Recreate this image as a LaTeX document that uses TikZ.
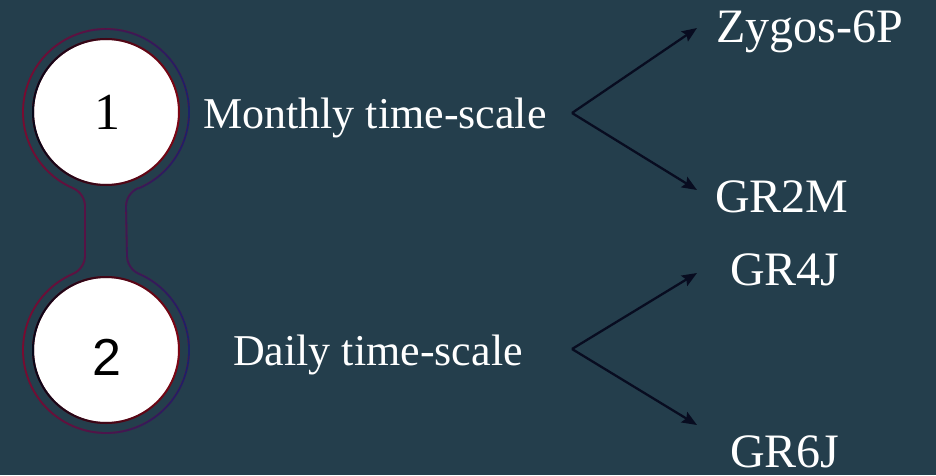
\documentclass[tikz,border=0pt]{standalone}
\usepackage{fontspec}
\setmainfont{Liberation Serif}
\newfontfamily\digitsans{Liberation Sans}
\usetikzlibrary{arrows.meta,fadings}

\definecolor{bgteal}{RGB}{36,62,76}
\definecolor{ringred}{RGB}{128,10,44}
\definecolor{ringblue}{RGB}{22,34,110}
\definecolor{rimred}{RGB}{126,6,20}
\definecolor{rimdark}{RGB}{8,8,26}
\definecolor{arrowink}{RGB}{8,12,32}

% horizontal fadings for the two-colour outlines
\tikzfading[name=fadeinright, left color=transparent!100, right color=transparent!0]
\tikzfading[name=fadeoutright, left color=transparent!0, right color=transparent!100]

\tikzset{
  stage/.style={circle, fill=white, draw=rimred, line width=2pt,
                minimum size=146pt, inner sep=0pt},
  stagedark/.style={draw=rimdark, line width=2pt, path fading=fadeoutright},
  digit/.style={text=black, font=\fontsize{52}{60}\selectfont, inner sep=0pt},
  scalelabel/.style={text=white, font=\fontsize{44}{52}\selectfont,
                     anchor=base west, inner sep=0pt},
  model/.style={text=white, font=\fontsize{48}{56}\selectfont,
                anchor=base west, inner sep=0pt},
  branch/.style={draw=arrowink, line width=2.3pt,
                 -{Stealth[length=15pt,width=12pt,inset=2.5pt]}},
  outline/.style={line width=1.8pt}
}

\begin{document}
\begin{tikzpicture}[x=1pt,y=1pt]
  \fill[bgteal] (0,0) rectangle (936,475);
  \useasboundingbox (0,0) rectangle (936,475);

  % dumbbell outline around both stages
  \def\dumbbell{
    (106,363) ++(293.45:83)
    arc[start angle=293.45, end angle=606.55, radius=83]
    arc[start angle=66.55, end angle=0, radius=20]
    -- (85,219.5)
    arc[start angle=0, end angle=-66.55, radius=20]
    arc[start angle=113.45, end angle=426.55, radius=83]
    arc[start angle=246.55, end angle=180, radius=20]
    -- (126,268.5)
    arc[start angle=180, end angle=113.45, radius=20]
    -- cycle}
  \draw[outline, ringred] \dumbbell;
  \draw[outline, ringblue, path fading=fadeinright] \dumbbell;

  % the two stages
  \node[stage] (c1) at (106,363) {};
  \node[stage] (c2) at (106,125) {};
  \path[stagedark] (106,363) circle[radius=73];
  \path[stagedark] (106,125) circle[radius=73];
  \node[digit] (d1) at (107,362.5) {1};
  \node[digit, font=\digitsans\fontsize{52}{60}\selectfont] (d2) at (107,118) {2};

  % time-scale labels
  \node[scalelabel] (monthly) at (203,347) {Monthly time-scale};
  \node[scalelabel] (daily) at (233,110) {Daily time-scale};

  % model names
  \node[model] (zygos) at (716,432) {Zygos-6P};
  \node[model] (gr2m) at (715,263) {GR2M};
  \node[model] (gr4j) at (730,190) {GR4J};
  \node[model] (gr6j) at (730,8) {GR6J};

  % branching arrows
  \coordinate (fork1) at (572,362);
  \coordinate (fork2) at (572,126);
  \coordinate (tipzygos) at (697,447);
  \coordinate (tipgr2m) at (697,285);
  \coordinate (tipgr4j) at (697,202);
  \coordinate (tipgr6j) at (697,50);
  \draw[branch] (fork1) -- (tipzygos);
  \draw[branch] (fork1) -- (tipgr2m);
  \draw[branch] (fork2) -- (tipgr4j);
  \draw[branch] (fork2) -- (tipgr6j);
\end{tikzpicture}
\end{document}
